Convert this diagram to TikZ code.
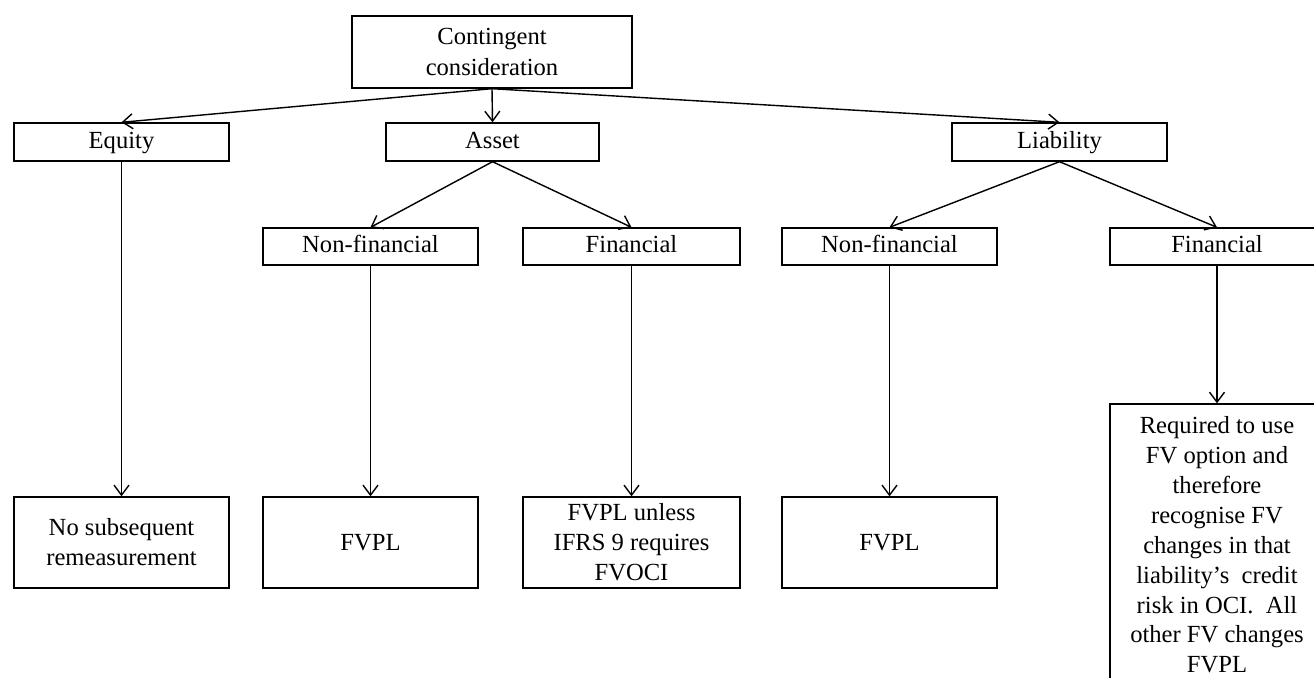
\documentclass[tikz,border=0pt]{standalone}
\usepackage{fontspec}
\setmainfont{Liberation Serif}
\usepackage{tikz}
\usetikzlibrary{arrows.meta}
\tikzset{
  box/.style={draw, rectangle, align=center, font=\fontsize{14}{17}\selectfont, inner sep=0pt, line width=0.8pt, fill=white},
  lvl/.style={box, text height=1.8ex, text depth=0.3ex},
  arr/.style={-{Straight Barb[length=2mm, width=3mm]}, line width=0.8pt},
}

\begin{document}
\begin{tikzpicture}[x=0.02cm,y=-0.02cm]
\clip (0,0) rectangle (1314,677);
% level 0 and 1
\node[box, minimum width=5.6cm, minimum height=1.44cm, font=\fontsize{14}{18}\selectfont] (cc) at (492,52) {Contingent\\consideration};
\node[lvl, minimum width=4.3cm, minimum height=0.76cm] (equity) at (121.5,142) {Equity};
\node[lvl, minimum width=4.26cm, minimum height=0.76cm] (asset) at (492.5,142) {Asset};
\node[lvl, minimum width=4.3cm, minimum height=0.76cm] (liab) at (1059.5,142) {Liability};
\draw[arr] (cc.south) -- (equity.north);
\draw[arr] (cc.south) -- (asset.north);
\draw[arr] (cc.south) -- (liab.north);
% level 2
\node[lvl, minimum width=4.3cm, minimum height=0.74cm] (anf) at (370.5,246.5) {Non-financial};
\node[lvl, minimum width=4.34cm, minimum height=0.74cm] (af) at (631.5,246.5) {Financial};
\node[lvl, minimum width=4.3cm, minimum height=0.74cm] (lnf) at (889.5,246.5) {Non-financial};
\node[lvl, minimum width=4.28cm, minimum height=0.74cm] (lf) at (1217,246.5) {Financial};
\draw[arr] (asset.south) -- (anf.north);
\draw[arr] (asset.south) -- (af.north);
\draw[arr] (liab.south) -- (lnf.north);
\draw[arr] (liab.south) -- (lf.north);
% outcomes
\node[box, minimum width=4.3cm, minimum height=1.82cm] (eqout) at (121.5,542.5) {No subsequent\\remeasurement};
\node[box, minimum width=4.3cm, minimum height=1.82cm] (anfout) at (370.5,542.5) {FVPL};
\node[box, minimum width=4.34cm, minimum height=1.82cm] (afout) at (631.5,542.5) {FVPL unless\\IFRS 9 requires\\FVOCI};
\node[box, minimum width=4.3cm, minimum height=1.82cm] (lnfout) at (889.5,542.5) {FVPL};
\node[box, minimum width=4.28cm, minimum height=5.64cm] (lfout) at (1217,545) {Required to use\\FV option and\\therefore\\recognise FV\\changes in that\\liability's\enspace credit\\risk in OCI.\enspace All\\other FV changes\\FVPL};
\draw[arr] (equity.south) -- (eqout.north);
\draw[arr] (anf.south) -- (anfout.north);
\draw[arr] (af.south) -- (afout.north);
\draw[arr] (lnf.south) -- (lnfout.north);
\draw[arr] (lf.south) -- (lfout.north);
\end{tikzpicture}
\end{document}
